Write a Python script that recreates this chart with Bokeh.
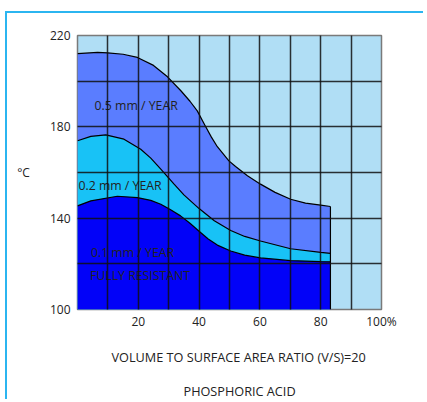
from bokeh.plotting import figure
from bokeh.models import FixedTicker, Label, Range1d, Title
from bokeh.embed import file_html
from bokeh.resources import INLINE

# ---- data ----
# 0.5 mm / YEAR boundary
x_05 = [0, 6.6, 9.9, 15.0, 19.7, 25.0, 29.6, 34.0, 37.0, 39.4, 42.0, 44.0, 46.0, 49.8, 52.0, 55.9, 60.2, 65.0, 70.1, 75.0, 80.0, 83.2]
y_05 = [212.1, 212.6, 212.4, 211.8, 210.4, 206.9, 201.9, 195.8, 191.2, 187.0, 180.5, 175.6, 171.3, 165.1, 162.6, 158.6, 154.9, 151.3, 148.3, 146.6, 145.7, 145.1]
# 0.2 mm / YEAR boundary
x_02 = [0, 4.4, 9.3, 15.3, 20.8, 24.1, 27.4, 31.7, 35.0, 40.0, 45.0, 50.4, 55.0, 60.2, 70.1, 80.0, 83.2]
y_02 = [173.9, 175.8, 176.5, 174.6, 170.2, 166.3, 161.5, 155.0, 150.2, 144.2, 138.9, 134.6, 132.0, 130.0, 126.6, 125.0, 124.6]
# 0.1 mm / YEAR boundary (fully resistant below)
x_01 = [0, 4.4, 13.1, 19.7, 24.1, 27.4, 30.5, 33.9, 37.0, 40.0, 43.0, 46.0, 50.4, 55.0, 60.2, 70.1, 80.0, 83.2]
y_01 = [145.4, 147.6, 149.6, 149.0, 147.8, 146.1, 143.8, 141.0, 137.8, 134.3, 130.9, 128.2, 125.6, 123.8, 122.6, 121.4, 121.0, 120.9]

x_ticks = [20, 40, 60, 80, 100]
y_ticks = [100, 140, 180, 220]
x_grid = [10, 20, 30, 40, 50, 60, 70, 80, 90]
y_grid = [120, 140, 160, 180, 200]

region_labels = ["0.5 mm / YEAR", "0.2 mm / YEAR", "0.1 mm / YEAR", "FULLY RESISTANT"]
region_label_x = [5.6, 0.3, 4.4, 4.1]
region_label_y = [189.2, 154.5, 125.0, 114.7]

FONT = "Open Sans"
TXT = "#222222"
FRAME = "#2BB5F0"

p = figure(width=418, height=388, output_backend="svg", toolbar_location=None,
           x_range=Range1d(0, 100), y_range=Range1d(100, 220),
           min_border_left=70, min_border_right=44, min_border_top=22, min_border_bottom=92,
           background_fill_color="#B0DEF5", border_fill_color="white",
           styles={"margin-left": "5px", "margin-top": "11px",
                   "border-left": f"2px solid {FRAME}", "border-top": f"2px solid {FRAME}"})

p.outline_line_color = "#7a7a7a"
p.outline_line_width = 1.5

# regions
p.varea(x=x_05, y1=100, y2=y_05, fill_color="#5A7DFF")
p.varea(x=x_02, y1=100, y2=y_02, fill_color="#18C2F6")
p.varea(x=x_01, y1=100, y2=y_01, fill_color="#0202F8")

p.line(x_05, y_05, line_color="black", line_width=1.2)
p.line(x_02, y_02, line_color="black", line_width=1.2)
p.line(x_01, y_01, line_color="black", line_width=1.2)
p.segment(x0=[x_05[-1]], y0=[y_05[-1]], x1=[x_05[-1]], y1=[100], line_color="black", line_width=1.2)

# grid on top
for g, ticks in ((p.xgrid, x_grid), (p.ygrid, y_grid)):
    g.ticker = FixedTicker(ticks=ticks)
    g.grid_line_color = "#111111"
    g.grid_line_alpha = 0.85
    g.grid_line_width = 1.5
    g.level = "overlay"

# axes
p.xaxis.ticker = FixedTicker(ticks=x_ticks)
p.xaxis.major_label_overrides = {100: "100%"}
p.yaxis.ticker = FixedTicker(ticks=y_ticks)
for ax in (p.xaxis, p.yaxis):
    ax.axis_line_color = None
    ax.major_tick_line_color = None
    ax.minor_tick_line_color = None
    ax.major_tick_out = 0
    ax.major_tick_in = 0
    ax.minor_tick_out = 0
    ax.minor_tick_in = 0
    ax.major_label_text_font = FONT
    ax.major_label_text_font_size = "12px"
    ax.major_label_text_color = TXT
p.yaxis.major_label_standoff = 7
p.xaxis.major_label_standoff = 3

p.yaxis.axis_label = "°C"
p.yaxis.axis_label_orientation = "horizontal"
p.yaxis.axis_label_standoff = 17
p.yaxis.axis_label_text_font = FONT
p.yaxis.axis_label_text_font_size = "12px"
p.yaxis.axis_label_text_font_style = "normal"
p.yaxis.axis_label_text_color = TXT

for t, x, y in zip(region_labels, region_label_x, region_label_y):
    p.add_layout(Label(x=x, y=y, text=t, text_font=FONT, text_font_size="12.3px",
                       text_color=TXT, text_baseline="middle", text_align="left"))

t1 = Title(text="VOLUME TO SURFACE AREA RATIO (V/S)=20", align="left", offset=34,
           text_font=FONT, text_font_size="12.7px", text_font_style="normal", text_color=TXT,
           standoff=27)
t2 = Title(text="PHOSPHORIC ACID", align="left", offset=106,
           text_font=FONT, text_font_size="12.7px", text_font_style="normal", text_color=TXT,
           standoff=0)
p.add_layout(t1, "below")
p.add_layout(t2, "below")

open("out.html", "w").write(file_html(p, INLINE))
